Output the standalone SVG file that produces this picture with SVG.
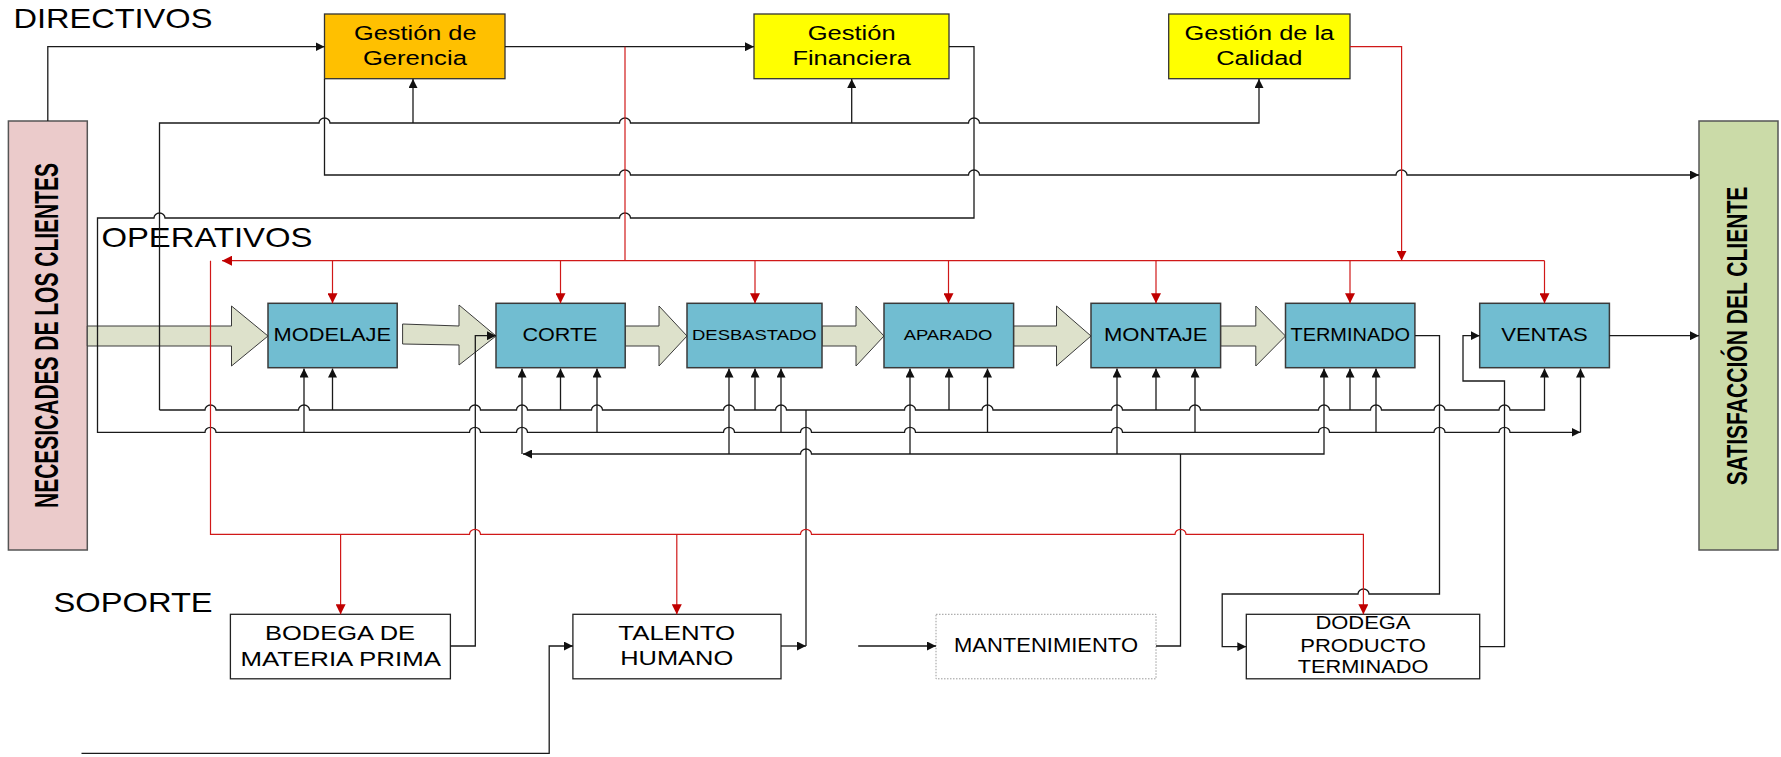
<svg xmlns="http://www.w3.org/2000/svg" width="1781" height="757" viewBox="0 0 1781 757">
  <style>
    text { font-family: "Liberation Sans", Arial, sans-serif; fill: #000; }
    .lvl { font-size: 28px; }
    .dir { font-size: 20px; text-anchor: middle; }
    .pt { font-size: 19px; text-anchor: middle; }
    .pts { font-size: 15.5px; text-anchor: middle; }
    .st { font-size: 21px; text-anchor: middle; }
    .sts { font-size: 17.5px; text-anchor: middle; }
    .vt { font-weight: bold; text-anchor: middle; }
    .proc { fill: #71bdd1; stroke: #3a3a3a; stroke-width: 1.5; }
    .sup { fill: #ffffff; stroke: #222; stroke-width: 1.3; }
    .blk { fill: #dde1cb; stroke: #3a3a3a; stroke-width: 1; }
    .ln { fill: none; stroke: #1a1a1a; stroke-width: 1.3; }
    .rd { fill: none; stroke: #d01818; stroke-width: 1.2; }
  </style>
  <defs>
    <marker id="ah" viewBox="0 0 10 10" refX="10" refY="5" markerWidth="9" markerHeight="9" markerUnits="userSpaceOnUse" orient="auto-start-reverse">
      <path d="M0,0 L10,5 L0,10 z" fill="#111"/>
    </marker>
    <marker id="ahr" viewBox="0 0 10 10" refX="10" refY="5" markerWidth="10" markerHeight="10" markerUnits="userSpaceOnUse" orient="auto-start-reverse">
      <path d="M0,0 L10,5 L0,10 z" fill="#c00000"/>
    </marker>
  </defs>

  <rect width="1781" height="757" fill="#ffffff"/>

  <!-- level captions -->
  <g id="levels">
    <text class="lvl" x="13.4" y="28.3" textLength="199" lengthAdjust="spacingAndGlyphs">DIRECTIVOS</text>
    <text class="lvl" x="101.4" y="247" textLength="211" lengthAdjust="spacingAndGlyphs">OPERATIVOS</text>
    <text class="lvl" x="53.6" y="611.7" textLength="159" lengthAdjust="spacingAndGlyphs">SOPORTE</text>
  </g>

  <!-- customer boxes (vertical captions condensed along their run) -->
  <g id="necesidades">
    <rect x="8.4" y="121" width="78.9" height="429" fill="#ebcbcb" stroke="#555" stroke-width="1.5"/>
    <text class="vt" font-size="34" transform="translate(57.5,335.5) rotate(-90) scale(0.617,1)">NECESICADES DE LOS CLIENTES</text>
  </g>
  <g id="satisfaccion">
    <rect x="1699" y="121" width="79" height="429" fill="#cbdba8" stroke="#555" stroke-width="1.5"/>
    <text class="vt" font-size="30" transform="translate(1747,336) rotate(-90) scale(0.702,1)">SATISFACCIÓN DEL CLIENTE</text>
  </g>

  <!-- management processes -->
  <g id="gerencia">
    <rect x="324.5" y="14" width="180.5" height="64.7" fill="#ffc000" stroke="#333" stroke-width="1.3"/>
    <text class="dir" x="415.3" y="40" textLength="122.5" lengthAdjust="spacingAndGlyphs">Gestión de</text>
    <text class="dir" x="414.9" y="65" textLength="104" lengthAdjust="spacingAndGlyphs">Gerencia</text>
  </g>
  <g id="financiera">
    <rect x="754" y="14" width="195" height="64.7" fill="#ffff00" stroke="#333" stroke-width="1.3"/>
    <text class="dir" x="851.7" y="40" textLength="88" lengthAdjust="spacingAndGlyphs">Gestión</text>
    <text class="dir" x="851.7" y="65" textLength="118.6" lengthAdjust="spacingAndGlyphs">Financiera</text>
  </g>
  <g id="calidad">
    <rect x="1168.7" y="14" width="181.3" height="64.7" fill="#ffff00" stroke="#333" stroke-width="1.3"/>
    <text class="dir" x="1259.4" y="40" textLength="149.6" lengthAdjust="spacingAndGlyphs">Gestión de la</text>
    <text class="dir" x="1259.3" y="65" textLength="86.3" lengthAdjust="spacingAndGlyphs">Calidad</text>
  </g>

  <!-- main flow block arrows -->
  <g id="flow">
    <path class="blk" d="M87.3,326 H231.5 V306 L268,336 L231.5,366 V346 H87.3 z"/>
    <path class="blk" d="M402.6,324 L459,326 V305 L496,336 L459,365 V345 L402.6,344 z"/>
    <path class="blk" d="M625.2,326 H659 V306 L687,336 L659,366 V346 H625.2 z"/>
    <path class="blk" d="M822,326 H856 V306 L884,336 L856,366 V346 H822 z"/>
    <path class="blk" d="M1013.6,326 H1056.5 V306 L1091,336 L1056.5,366 V346 H1013.6 z"/>
    <path class="blk" d="M1220.6,326 H1255.8 V306 L1285.5,336 L1255.8,366 V346 H1220.6 z"/>
  </g>

  <!-- operative processes -->
  <g id="modelaje">
    <rect class="proc" x="268" y="303.3" width="129.2" height="64.4"/>
    <text class="pt" x="332.3" y="341" textLength="117.5" lengthAdjust="spacingAndGlyphs">MODELAJE</text>
  </g>
  <g id="corte">
    <rect class="proc" x="496" y="303.3" width="129.2" height="64.4"/>
    <text class="pt" x="560" y="341" textLength="75" lengthAdjust="spacingAndGlyphs">CORTE</text>
  </g>
  <g id="desbastado">
    <rect class="proc" x="687" y="303.3" width="135" height="64.4"/>
    <text class="pts" x="754.3" y="340" textLength="124.5" lengthAdjust="spacingAndGlyphs">DESBASTADO</text>
  </g>
  <g id="aparado">
    <rect class="proc" x="884" y="303.3" width="129.6" height="64.4"/>
    <text class="pts" x="948" y="340" textLength="88.7" lengthAdjust="spacingAndGlyphs">APARADO</text>
  </g>
  <g id="montaje">
    <rect class="proc" x="1091" y="303.3" width="129.6" height="64.4"/>
    <text class="pt" x="1155.8" y="341" textLength="103.5" lengthAdjust="spacingAndGlyphs">MONTAJE</text>
  </g>
  <g id="terminado">
    <rect class="proc" x="1285.5" y="303.3" width="129.4" height="64.4"/>
    <text class="pt" x="1350.3" y="341" font-size="17.5" textLength="119.6" lengthAdjust="spacingAndGlyphs">TERMINADO</text>
  </g>
  <g id="ventas">
    <rect class="proc" x="1479.7" y="303.3" width="129.7" height="64.4"/>
    <text class="pt" x="1544.5" y="341" textLength="86.6" lengthAdjust="spacingAndGlyphs">VENTAS</text>
  </g>

  <!-- support processes -->
  <g id="bodega-mp">
    <rect class="sup" x="230.4" y="614.3" width="220" height="64.5"/>
    <text class="st" x="340" y="640" textLength="150" lengthAdjust="spacingAndGlyphs">BODEGA DE</text>
    <text class="st" x="340.7" y="665.7" textLength="200.5" lengthAdjust="spacingAndGlyphs">MATERIA PRIMA</text>
  </g>
  <g id="talento">
    <rect class="sup" x="572.9" y="614.3" width="208.1" height="64.5"/>
    <text class="st" x="676.7" y="640" textLength="116.7" lengthAdjust="spacingAndGlyphs">TALENTO</text>
    <text class="st" x="676.7" y="665" textLength="113" lengthAdjust="spacingAndGlyphs">HUMANO</text>
  </g>
  <g id="mantenimiento">
    <rect x="936" y="614.3" width="220" height="64.5" fill="#ffffff" stroke="#9a9a9a" stroke-width="1" stroke-dasharray="1.5 1.5"/>
    <text x="1046" y="652.3" font-size="20" text-anchor="middle" textLength="184" lengthAdjust="spacingAndGlyphs">MANTENIMIENTO</text>
  </g>
  <g id="bodega-pt">
    <rect class="sup" x="1246.3" y="614.3" width="233.4" height="64.5"/>
    <text class="sts" x="1363" y="629.3" textLength="95" lengthAdjust="spacingAndGlyphs">DODEGA</text>
    <text class="sts" x="1363" y="651.7" textLength="125.5" lengthAdjust="spacingAndGlyphs">PRODUCTO</text>
    <text class="sts" x="1363" y="673.3" textLength="130.7" lengthAdjust="spacingAndGlyphs">TERMINADO</text>
  </g>

  <!-- connectors -->
  <g id="connectors">
    <!-- black information lines -->
    <path class="ln" d="M47.8,121 V46.7 H324.5" marker-end="url(#ah)"/>
    <path class="ln" d="M505,46.7 H754" marker-end="url(#ah)"/>
    <path class="ln" d="M159.5,410 V123 H319 A5.5 5 0 0 1 330 123 H619.5 A5.5 5 0 0 1 630.5 123 H968.5 A5.5 5 0 0 1 979.5 123 H1259 V79" marker-end="url(#ah)"/>
    <path class="ln" d="M413,123 V79" marker-end="url(#ah)"/>
    <path class="ln" d="M851.7,123 V79" marker-end="url(#ah)"/>
    <path class="ln" d="M324.5,79 V175 H619.5 A5.5 5 0 0 1 630.5 175 H968.5 A5.5 5 0 0 1 979.5 175 H1396 A5.5 5 0 0 1 1407 175 H1699" marker-end="url(#ah)"/>
    <!-- financial loop feeding row 2 -->
    <path class="ln" d="M949,46.7 H974 V218 H630.5 A5.5 5 0 0 0 619.5 218 H165 A5.5 5 0 0 0 154 218 H97.5 V432.3 H205 A5.5 5 0 0 1 216 432.3 H469.5 A5.5 5 0 0 1 480.5 432.3 H516.5 A5.5 5 0 0 1 527.5 432.3 H723.5 A5.5 5 0 0 1 734.5 432.3 H800.5 A5.5 5 0 0 1 811.5 432.3 H904.5 A5.5 5 0 0 1 915.5 432.3 H1111.5 A5.5 5 0 0 1 1122.5 432.3 H1318.5 A5.5 5 0 0 1 1329.5 432.3 H1434 A5.5 5 0 0 1 1445 432.3 H1499 A5.5 5 0 0 1 1510 432.3 H1580.5" marker-end="url(#ah)"/>
    <!-- row 1 -->
    <path class="ln" d="M159.5,410 H205 A5.5 5 0 0 1 216 410 H298.5 A5.5 5 0 0 1 309.5 410 H469.5 A5.5 5 0 0 1 480.5 410 H516.5 A5.5 5 0 0 1 527.5 410 H591.5 A5.5 5 0 0 1 602.5 410 H723.5 A5.5 5 0 0 1 734.5 410 H775.5 A5.5 5 0 0 1 786.5 410 H904.5 A5.5 5 0 0 1 915.5 410 H982 A5.5 5 0 0 1 993 410 H1111.5 A5.5 5 0 0 1 1122.5 410 H1189.5 A5.5 5 0 0 1 1200.5 410 H1318.5 A5.5 5 0 0 1 1329.5 410 H1370.5 A5.5 5 0 0 1 1381.5 410 H1434 A5.5 5 0 0 1 1445 410 H1499 A5.5 5 0 0 1 1510 410 H1544.5 V368.5" marker-end="url(#ah)"/>
    <!-- row 3 -->
    <path class="ln" d="M1324,368.5 V454 H811.5 A5.5 5 0 0 0 800.5 454 H523" marker-start="url(#ah)" marker-end="url(#ah)"/>
    <!-- feeds up into the process boxes -->
    <path class="ln" d="M304,432.3 V368.5" marker-end="url(#ah)"/>
    <path class="ln" d="M332.5,410 V368.5" marker-end="url(#ah)"/>
    <path class="ln" d="M522,454 V368.5" marker-end="url(#ah)"/>
    <path class="ln" d="M560.5,410 V368.5" marker-end="url(#ah)"/>
    <path class="ln" d="M597,432.3 V368.5" marker-end="url(#ah)"/>
    <path class="ln" d="M729,454 V368.5" marker-end="url(#ah)"/>
    <path class="ln" d="M755,410 V368.5" marker-end="url(#ah)"/>
    <path class="ln" d="M781,432.3 V368.5" marker-end="url(#ah)"/>
    <path class="ln" d="M910,454 V368.5" marker-end="url(#ah)"/>
    <path class="ln" d="M949,410 V368.5" marker-end="url(#ah)"/>
    <path class="ln" d="M987.5,432.3 V368.5" marker-end="url(#ah)"/>
    <path class="ln" d="M1117,454 V368.5" marker-end="url(#ah)"/>
    <path class="ln" d="M1156,410 V368.5" marker-end="url(#ah)"/>
    <path class="ln" d="M1195,432.3 V368.5" marker-end="url(#ah)"/>
    <path class="ln" d="M1350,410 V368.5" marker-end="url(#ah)"/>
    <path class="ln" d="M1376,432.3 V368.5" marker-end="url(#ah)"/>
    <path class="ln" d="M1580.5,432.3 V368.5" marker-end="url(#ah)"/>
    <!-- support outputs -->
    <path class="ln" d="M450.4,646 H475.3 V335.7 H496" marker-end="url(#ah)"/>
    <path class="ln" d="M781,646 H806" marker-end="url(#ah)"/>
    <path class="ln" d="M806,646 V410"/>
    <path class="ln" d="M81.5,753.3 H549.2 V646 H572.9" marker-end="url(#ah)"/>
    <path class="ln" d="M858.2,646 H936" marker-end="url(#ah)"/>
    <path class="ln" d="M1156,646 H1180.5 V454"/>
    <path class="ln" d="M1415,335.7 H1439.5 V594 H1369 A5.5 5 0 0 0 1358 594 H1222.2 V646.7 H1246.3" marker-end="url(#ah)"/>
    <path class="ln" d="M1479.7,646.7 H1504.5 V381 H1463 V335.7 H1479.7" marker-end="url(#ah)"/>
    <path class="ln" d="M1609.4,335.7 H1699" marker-end="url(#ah)"/>

    <!-- red quality / management directives -->
    <path class="rd" d="M625,46.7 V260.7"/>
    <path class="rd" d="M1350,46.7 H1401.6 V260.7" marker-end="url(#ahr)"/>
    <path class="rd" d="M222,260.7 H1544.5" marker-start="url(#ahr)"/>
    <path class="rd" d="M332.5,260.7 V303.3" marker-end="url(#ahr)"/>
    <path class="rd" d="M560.5,260.7 V303.3" marker-end="url(#ahr)"/>
    <path class="rd" d="M755,260.7 V303.3" marker-end="url(#ahr)"/>
    <path class="rd" d="M948.5,260.7 V303.3" marker-end="url(#ahr)"/>
    <path class="rd" d="M1156,260.7 V303.3" marker-end="url(#ahr)"/>
    <path class="rd" d="M1350,260.7 V303.3" marker-end="url(#ahr)"/>
    <path class="rd" d="M1544.5,260.7 V303.3" marker-end="url(#ahr)"/>
    <path class="rd" d="M210.5,260.7 V534.3 H469.5 A5.5 5 0 0 1 480.5 534.3 H800.5 A5.5 5 0 0 1 811.5 534.3 H1175 A5.5 5 0 0 1 1186 534.3 H1363.4 V614.3" marker-end="url(#ahr)"/>
    <path class="rd" d="M340.6,534.3 V614.3" marker-end="url(#ahr)"/>
    <path class="rd" d="M676.8,534.3 V614.3" marker-end="url(#ahr)"/>
  </g>
</svg>
